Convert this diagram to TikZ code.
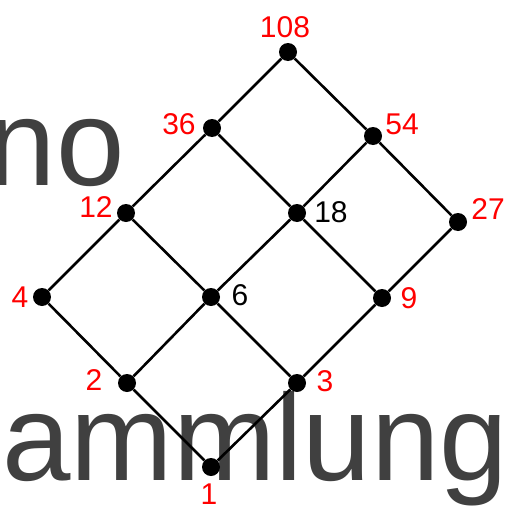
\documentclass[tikz,border=0pt]{standalone}
\usepackage{fontspec}
\setmainfont{Liberation Sans}
\definecolor{backtext}{HTML}{404040}
\definecolor{labred}{HTML}{FF0000}

\begin{document}
\begin{tikzpicture}[x=1pt,y=-1pt,bg/.style={inner sep=0pt,text=backtext,font=\fontsize{123}{123}\selectfont},dot/.style={circle,fill=black,inner sep=0pt,minimum size=18pt},lab/.style={inner sep=0pt,text=labred,font=\fontsize{30}{30}\selectfont},blab/.style={lab,text=black},edge/.style={line width=2.6pt,black}]
\useasboundingbox (0,0) rectangle (505,506);
\node[bg, anchor=base east] (bgno) at (125,185) {no};
\node[bg, anchor=base west] (bgam) at (2,480) {ammlung};
\node[dot] (d1) at (211,467) {};\node[dot] (d2) at (127,383) {};\node[dot] (d3) at (297,383) {};
\node[dot] (d4) at (42,297) {};\node[dot] (d6) at (211,297) {};\node[dot] (d9) at (382,298) {};
\node[dot] (d12) at (126,213) {};\node[dot] (d18) at (297,213) {};\node[dot] (d27) at (458,222) {};
\node[dot] (d36) at (212,128) {};\node[dot] (d54) at (373,136) {};\node[dot] (d108) at (288,52) {};
\draw[edge] (d1) -- (d2) (d1) -- (d3) (d2) -- (d4) (d2) -- (d6) (d3) -- (d6) (d3) -- (d9);
\draw[edge] (d4) -- (d12) (d6) -- (d12) (d6) -- (d18) (d9) -- (d18) (d9) -- (d27);
\draw[edge] (d12) -- (d36) (d18) -- (d36) (d18) -- (d54) (d27) -- (d54) (d36) -- (d108) (d54) -- (d108);
\node[lab] (l1) at (209,494) {1};\node[lab] (l2) at (94,380) {2};\node[lab] (l3) at (325,381) {3};
\node[lab] (l4) at (20,297) {4};\node[blab] (l6) at (240,295) {6};\node[lab] (l9) at (409,298) {9};
\node[lab] (l12) at (96,207) {12};\node[blab] (l18) at (331,212) {18};\node[lab] (l27) at (488,209) {27};
\node[lab] (l36) at (179,124) {36};\node[lab] (l54) at (402,124) {54};\node[lab] (l108) at (285,27) {108};
\end{tikzpicture}
\end{document}
